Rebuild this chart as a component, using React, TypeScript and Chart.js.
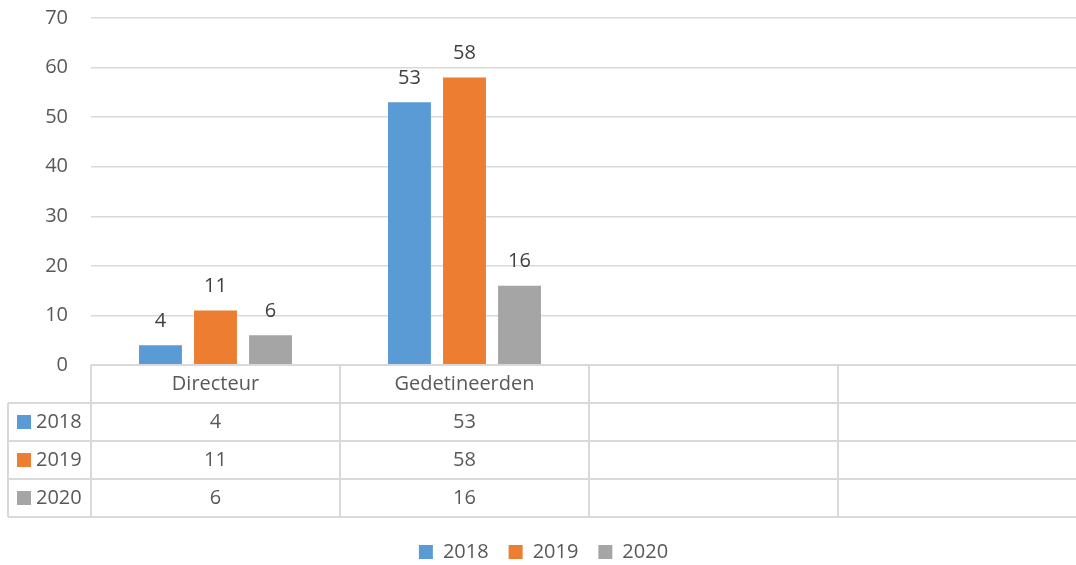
import React, { useEffect, useRef } from "react";
import { Chart, registerables } from "chart.js";

Chart.register(...registerables);

const categories = ["Directeur", "Gedetineerden", "", ""];
const seriesLabels = ["2018", "2019", "2020"];
const values2018 = [4, 53, null, null];
const values2019 = [11, 58, null, null];
const values2020 = [6, 16, null, null];
const seriesColors = ["#5B9BD5", "#ED7D31", "#A5A5A5"];
const yMax = 70;
const yStep = 10;

const FONT = "'Open Sans', 'Noto Sans', sans-serif";
const TEXT = "#595959";
const LINE = "#d9d9d9";
const ROW_H = 38;

const dataLabelPlugin = {
  id: "dataLabels",
  afterDatasetsDraw(chart: any) {
    const { ctx } = chart;
    ctx.save();
    ctx.font = `20px ${FONT}`;
    ctx.fillStyle = "#404040";
    ctx.textAlign = "center";
    ctx.textBaseline = "middle";
    chart.data.datasets.forEach((ds: any, d: number) => {
      const meta = chart.getDatasetMeta(d);
      meta.data.forEach((el: any, i: number) => {
        const v = ds.data[i];
        if (v == null) return;
        ctx.fillText(String(v), el.x, el.y - 24);
      });
    });
    ctx.restore();
  },
};

const tablePlugin = {
  id: "dataTable",
  afterDraw(chart: any) {
    const { ctx, chartArea, scales } = chart;
    const xs = scales.x;
    const left = chartArea.left;
    const right = chartArea.right;
    const n = categories.length;
    const colW = (right - left) / n;
    const top = chartArea.bottom;
    const tableLeft = 8;
    const rows = chart.data.datasets.length + 1;
    ctx.save();
    ctx.strokeStyle = LINE;
    ctx.lineWidth = 2;
    ctx.beginPath();
    ctx.moveTo(left, top);
    ctx.lineTo(right, top);
    for (let r = 1; r <= rows; r++) {
      const y = top + r * ROW_H;
      ctx.moveTo(tableLeft, y);
      ctx.lineTo(right, y);
    }
    ctx.moveTo(tableLeft, top + ROW_H);
    ctx.lineTo(tableLeft, top + rows * ROW_H);
    for (let c = 0; c <= n; c++) {
      const xx = left + c * colW;
      ctx.moveTo(xx, top);
      ctx.lineTo(xx, top + rows * ROW_H);
    }
    ctx.stroke();

    ctx.font = `20px ${FONT}`;
    ctx.fillStyle = TEXT;
    ctx.textAlign = "center";
    ctx.textBaseline = "middle";
    categories.forEach((c, i) => {
      if (c) ctx.fillText(c, xs.getPixelForValue(i), top + ROW_H / 2);
    });
    chart.data.datasets.forEach((ds: any, d: number) => {
      const y = top + (d + 1) * ROW_H + ROW_H / 2;
      ctx.fillStyle = TEXT;
      ctx.textAlign = "center";
      ds.data.forEach((v: any, i: number) => {
        if (v != null) ctx.fillText(String(v), xs.getPixelForValue(i), y);
      });
      ctx.fillStyle = ds.backgroundColor;
      ctx.fillRect(17, y - 7, 14, 14);
      ctx.fillStyle = TEXT;
      ctx.textAlign = "left";
      ctx.fillText(ds.label, 36, y);
    });
    ctx.restore();
  },
};

export default function App() {
  const ref = useRef<HTMLCanvasElement>(null);
  useEffect(() => {
    if (!ref.current) return;
    Chart.defaults.font.family = FONT;
    const seriesValues = [values2018, values2019, values2020];
    const chart = new Chart(ref.current, {
      type: "bar",
      data: {
        labels: categories,
        datasets: seriesLabels.map((label, i) => ({
          label,
          data: seriesValues[i],
          backgroundColor: seriesColors[i],
          categoryPercentage: 0.663,
          barPercentage: 0.78,
        })),
      },
      options: {
        animation: false,
        responsive: false,
        devicePixelRatio: 1,
        layout: { padding: { top: 18, left: 0, right: 0, bottom: 0 } },
        plugins: {
          legend: {
            position: "bottom",
            labels: {
              boxWidth: 14,
              boxHeight: 14,
              padding: 20,
              color: TEXT,
              font: { size: 20, family: FONT },
            },
          },
          tooltip: { enabled: false },
        },
        scales: {
          x: {
            ticks: { display: false },
            grid: { display: false },
            border: { display: false },
            afterFit: (s: any) => {
              s.height = 157;
            },
          },
          y: {
            min: 0,
            max: yMax,
            ticks: {
              stepSize: yStep,
              color: TEXT,
              padding: 23,
              font: { size: 20, family: FONT },
            },
            grid: { color: LINE, lineWidth: 1.5, drawTicks: false },
            border: { display: false },
            afterFit: (s: any) => {
              s.width = 91;
              s.paddingTop = 0;
              s.paddingBottom = 0;
            },
          },
        },
      },
      plugins: [dataLabelPlugin, tablePlugin],
    });
    return () => chart.destroy();
  }, []);
  return (
    <div
      style={{
        position: "absolute",
        left: 0,
        top: 0,
        width: 1076,
        height: 565,
        overflow: "hidden",
        background: "#fff",
      }}
    >
      <canvas ref={ref} width={1087} height={572} style={{ width: 1087, height: 572, display: "block" }} />
    </div>
  );
}
